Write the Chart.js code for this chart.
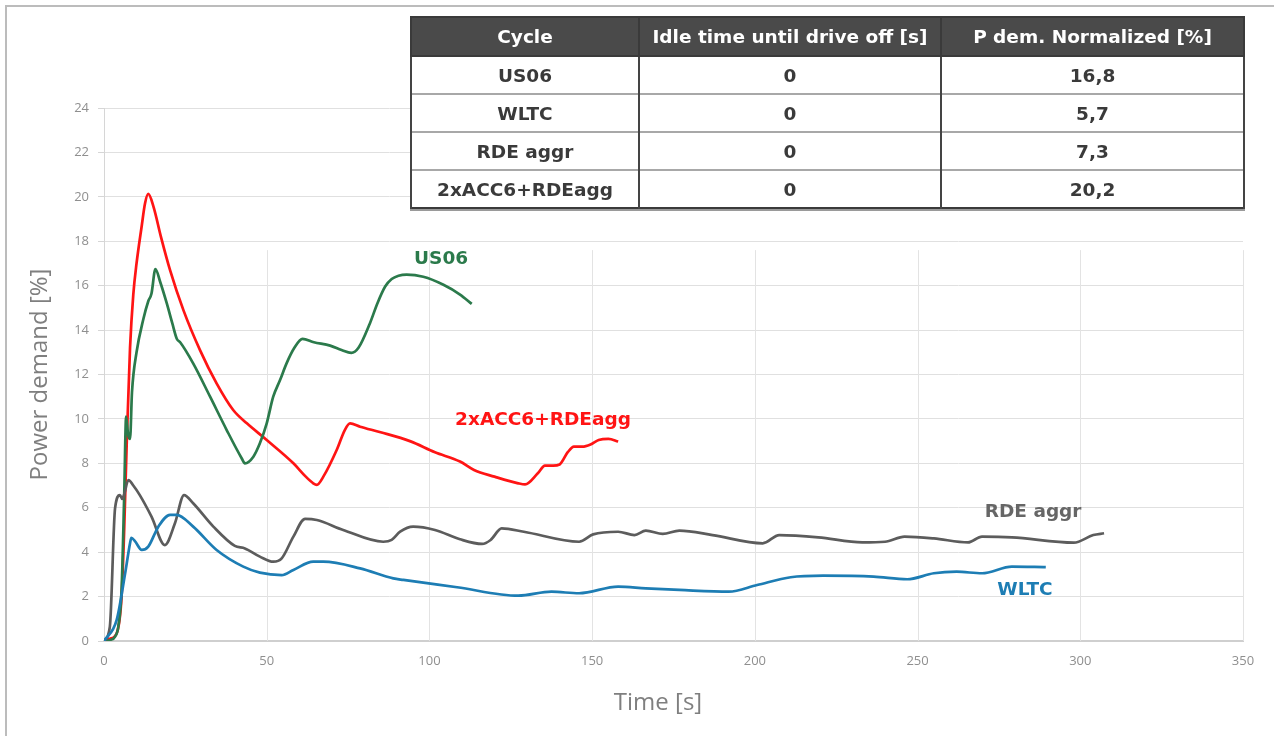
<!DOCTYPE html>
<html>
<head>
<meta charset="utf-8">
<script src="https://cdn.jsdelivr.net/npm/chart.js@4/dist/chart.umd.min.js"></script>
<style>
  html, body { margin: 0; padding: 0; background: #fff; }
  body { width: 1274px; height: 736px; position: relative; overflow: hidden; }
  #frame { position: absolute; left: 5px; top: 5px; width: 1300px; height: 800px;
           border: 2px solid #bcbcbc; box-sizing: border-box; }
  #chart { position: absolute; left: 0; top: 0; }
  #summary { position: absolute; left: 410px; top: 16px; width: 833px;
             border-collapse: collapse; table-layout: fixed;
             font-family: "DejaVu Sans", "Liberation Sans", sans-serif; font-weight: bold;
             font-size: 18.5px; color: #3a3a3a; background: #fff;
             border: 2px solid #3a3a3a; box-shadow: 0 2px 0 #9a9a9a; }
  #summary th { background: #4a4a4a; color: #fff; height: 37px; padding: 0;
                border-left: 2px solid #3a3a3a; border-right: 2px solid #3a3a3a;
                border-bottom: 2px solid #3a3a3a; font-weight: bold; }
  #summary td { height: 36px; padding: 0; text-align: center;
                border-left: 2px solid #444; border-right: 2px solid #444;
                border-top: 2px solid #a8a8a8; }
  #summary col.c1 { width: 228px; }
  #summary col.c2 { width: 302px; }
  #summary col.c3 { width: 303px; }
</style>
</head>
<body>
<div id="frame"></div>
<canvas id="chart" width="1274" height="736"></canvas>
<table id="summary">
  <colgroup><col class="c1"><col class="c2"><col class="c3"></colgroup>
  <thead><tr id="summaryHead"></tr></thead>
  <tbody id="summaryBody"></tbody>
</table>
<script>
// ---- Summary table ----
const tableHeaders = ['Cycle', 'Idle time until drive off [s]', 'P dem. Normalized [%]'];
const tableCycles  = ['US06', 'WLTC', 'RDE aggr', '2xACC6+RDEagg'];
const tableIdle    = ['0', '0', '0', '0'];
const tablePdem    = ['16,8', '5,7', '7,3', '20,2'];

// ---- Axis ranges ----
const xRange = [0, 350], xStep = 50;
const yRange = [0, 24],  yStep = 2;

// ---- US06 ----
const timeUS06  = [0, 2, 3.4, 4.4, 5.4, 6.2, 6.8, 7.4, 8.0, 8.6, 10, 12.1, 13.6, 14.6, 15.8, 17.2, 19.3, 21, 22.4, 23.4,
                   27.4, 32.6, 37.7, 42.3, 43.3, 45.9, 47.9, 50, 52, 54.1, 56.1, 58.5, 61, 64.5, 69.5, 73, 76, 78.2,
                   81.7, 84, 86.4, 88.4, 90.5, 93, 98.1, 104.3, 109.4, 113];
const powerUS06 = [0, 0.05, 0.2, 0.65, 2.3, 6.5, 10.1, 9.3, 9.1, 11.2, 13.0, 14.5, 15.3, 15.65, 16.75, 16.2, 15.2, 14.3, 13.6, 13.45,
                   12.5, 11.0, 9.5, 8.23, 8.0, 8.3, 8.9, 9.8, 11.0, 11.75, 12.5, 13.2, 13.6, 13.45, 13.3, 13.1, 12.97, 13.2,
                   14.3, 15.2, 15.96, 16.3, 16.45, 16.5, 16.4, 16.04, 15.6, 15.18];

// ---- 2xACC6+RDEagg ----
const timeACC  = [0, 1.8, 3.9, 5.4, 6.2, 7.0, 8.0, 9.0, 10, 11.6, 12.6, 13.6, 15.2, 17.5, 20.3, 24.4, 29.5, 34.6, 39.7, 43.9,
                  50, 58.2, 62, 64.3, 65.4, 67.4, 71.5, 74, 75.6, 78.7, 85, 94, 101.7, 109.4, 113.7, 120, 127.3, 129.4,
                  133.3, 135.5, 138, 140, 142.5, 144.4, 147, 149.5, 152, 155, 158];
const powerACC = [0, 0.1, 0.35, 2.0, 5.0, 9.0, 13.2, 15.6, 17.0, 18.7, 19.7, 20.13, 19.56, 18.2, 16.7, 14.9, 13.1, 11.6, 10.4, 9.8,
                  9.05, 8.0, 7.4, 7.1, 7.03, 7.4, 8.6, 9.5, 9.8, 9.65, 9.4, 9.0, 8.5, 8.08, 7.7, 7.4, 7.1, 7.05,
                  7.55, 7.9, 7.9, 7.95, 8.5, 8.75, 8.75, 8.85, 9.05, 9.1, 8.98];

// ---- RDE aggr ----
const timeRDE  = [0, 1.8, 3.4, 4.9, 5.6, 6.2, 7.5, 9, 11, 14.6, 18.7, 21.8, 24.6, 27.4, 33.6, 40.2, 43.3, 47.9, 52, 54.6,
                  58.2, 61.8, 65.4, 73.5, 85.8, 88.4, 91, 95, 101.7, 109.4, 116.2, 118.8, 122.2, 129, 146, 150.3, 158,
                  163, 166.5, 171.7, 176.8, 187, 202.4, 207.5, 219.5, 233, 240, 246, 255, 265.5, 269.8, 279, 298, 304, 307.3];
const powerRDE = [0, 0.65, 5.98, 6.57, 6.4, 6.6, 7.25, 7.0, 6.57, 5.6, 4.32, 5.3, 6.57, 6.2, 5.15, 4.28, 4.17, 3.8, 3.57, 3.72,
                  4.7, 5.5, 5.45, 5.0, 4.47, 4.55, 4.92, 5.15, 5.0, 4.58, 4.37, 4.55, 5.07, 4.92, 4.47, 4.8, 4.92,
                  4.77, 4.97, 4.82, 4.97, 4.77, 4.4, 4.77, 4.67, 4.44, 4.47, 4.7, 4.62, 4.44, 4.7, 4.67, 4.43, 4.77, 4.85];

// ---- WLTC ----
const timeWLTC  = [0, 3.9, 6.5, 8.0, 8.4, 9.5, 11.6, 13.6, 16.7, 20.3, 22.3, 27.4, 34.6, 42.8, 47.9, 54.6, 58.2, 64.3, 67.4,
                   78.7, 88.9, 92, 108.5, 127.3, 137.5, 146, 158, 166.5, 176.8, 192, 200.7, 211, 221, 236.5, 246.8,
                   255, 262, 269.8, 279, 289.4];
const powerWLTC = [0, 0.95, 3.05, 4.4, 4.65, 4.5, 4.1, 4.25, 5.15, 5.68, 5.68, 5.15, 4.1, 3.35, 3.08, 2.97, 3.2, 3.57, 3.57,
                   3.27, 2.82, 2.75, 2.42, 2.04, 2.22, 2.15, 2.45, 2.37, 2.3, 2.22, 2.52, 2.87, 2.94, 2.9, 2.78,
                   3.05, 3.12, 3.05, 3.35, 3.33];

// ---- Build table ----
const headRow = document.getElementById('summaryHead');
tableHeaders.forEach(h => { const th = document.createElement('th'); th.textContent = h; headRow.appendChild(th); });
const body = document.getElementById('summaryBody');
tableCycles.forEach((c, i) => {
  const tr = document.createElement('tr');
  [c, tableIdle[i], tablePdem[i]].forEach(v => { const td = document.createElement('td'); td.textContent = v; tr.appendChild(td); });
  body.appendChild(tr);
});

// ---- Chart ----
const pairs = (ts, vs) => ts.map((t, i) => ({ x: t, y: vs[i] }));

const COLORS = { us06: '#2b7a4b', acc: '#ff1414', rde: '#5c5c5c', wltc: '#1d7db4' };

const seriesLabels = [
  { text: 'US06',          x: 103.6, y: 17.2, color: COLORS.us06 },
  { text: '2xACC6+RDEagg', x: 134.9, y: 9.95, color: COLORS.acc },
  { text: 'RDE aggr',      x: 285.5, y: 5.8,  color: '#666666' },
  { text: 'WLTC',          x: 283.0, y: 2.3,  color: COLORS.wltc }
];

// vertical grid lines start below the top of the plot
const xGridTop = 17.6;
const partialXGrid = {
  id: 'partialXGrid',
  beforeDatasetsDraw(chart) {
    const { ctx, scales: { x, y } } = chart;
    const top = y.getPixelForValue(xGridTop);
    ctx.save();
    ctx.strokeStyle = '#e3e3e3';
    ctx.lineWidth = 1;
    x.ticks.forEach(t => {
      if (t.value === xRange[0]) return;
      const px = Math.round(x.getPixelForValue(t.value)) + 0.5;
      ctx.beginPath(); ctx.moveTo(px, top); ctx.lineTo(px, y.bottom); ctx.stroke();
    });
    ctx.restore();
  }
};

const seriesLabelPlugin = {
  id: 'seriesLabels',
  afterDatasetsDraw(chart) {
    const { ctx, scales: { x, y } } = chart;
    ctx.save();
    ctx.font = 'bold 18.5px "DejaVu Sans", "Liberation Sans", sans-serif';
    ctx.textAlign = 'center';
    ctx.textBaseline = 'middle';
    seriesLabels.forEach(l => {
      ctx.fillStyle = l.color;
      ctx.fillText(l.text, x.getPixelForValue(l.x), y.getPixelForValue(l.y));
    });
    ctx.restore();
  }
};

const xTitlePlugin = {
  id: 'xTitle',
  afterDraw(chart) {
    const { ctx } = chart;
    ctx.save();
    ctx.font = '24px "Open Sans", sans-serif';
    ctx.fillStyle = '#7f7f7f';
    ctx.textAlign = 'center';
    ctx.textBaseline = 'middle';
    ctx.fillText('Time [s]', 658, 703);
    ctx.restore();
  }
};

const lineDs = (label, ts, vs, color) => ({
  label, data: pairs(ts, vs), borderColor: color, backgroundColor: color,
  borderWidth: 2.7, pointRadius: 0, fill: false, cubicInterpolationMode: 'monotone'
});

new Chart(document.getElementById('chart'), {
  type: 'line',
  data: {
    datasets: [
      lineDs('WLTC', timeWLTC, powerWLTC, COLORS.wltc),
      lineDs('RDE aggr', timeRDE, powerRDE, COLORS.rde),
      lineDs('US06', timeUS06, powerUS06, COLORS.us06),
      lineDs('2xACC6+RDEagg', timeACC, powerACC, COLORS.acc)
    ]
  },
  options: {
    responsive: false,
    animation: false,
    layout: { padding: { left: 14, top: 108, right: 31, bottom: 10 } },
    plugins: { legend: { display: false }, tooltip: { enabled: false } },
    scales: {
      x: {
        type: 'linear', min: xRange[0], max: xRange[1],
        ticks: { stepSize: xStep, color: '#8f8f8f', padding: 12, maxRotation: 0,
                 font: { family: '"Open Sans", sans-serif', size: 13 } },
        grid: { display: false, drawTicks: false },
        border: { display: true, color: '#cfcfcf', width: 2 },
        afterFit: s => { s.height = 85; }
      },
      y: {
        min: yRange[0], max: yRange[1],
        ticks: { stepSize: yStep, color: '#8f8f8f', padding: 9,
                 font: { family: '"Open Sans", sans-serif', size: 13 } },
        grid: { color: '#e0e0e0', lineWidth: 1, tickLength: 6, drawTicks: true, tickColor: '#d6d6d6' },
        border: { display: true, color: '#d6d6d6', width: 1 },
        title: { display: true, text: 'Power demand [%]', color: '#7f7f7f',
                 font: { family: '"Open Sans", sans-serif', size: 24, weight: 'normal' },
                 padding: { top: 12, bottom: 0 } },
        afterFit: s => { s.width = 90; }
      }
    }
  },
  plugins: [partialXGrid, seriesLabelPlugin, xTitlePlugin]
});
</script>
</body>
</html>
